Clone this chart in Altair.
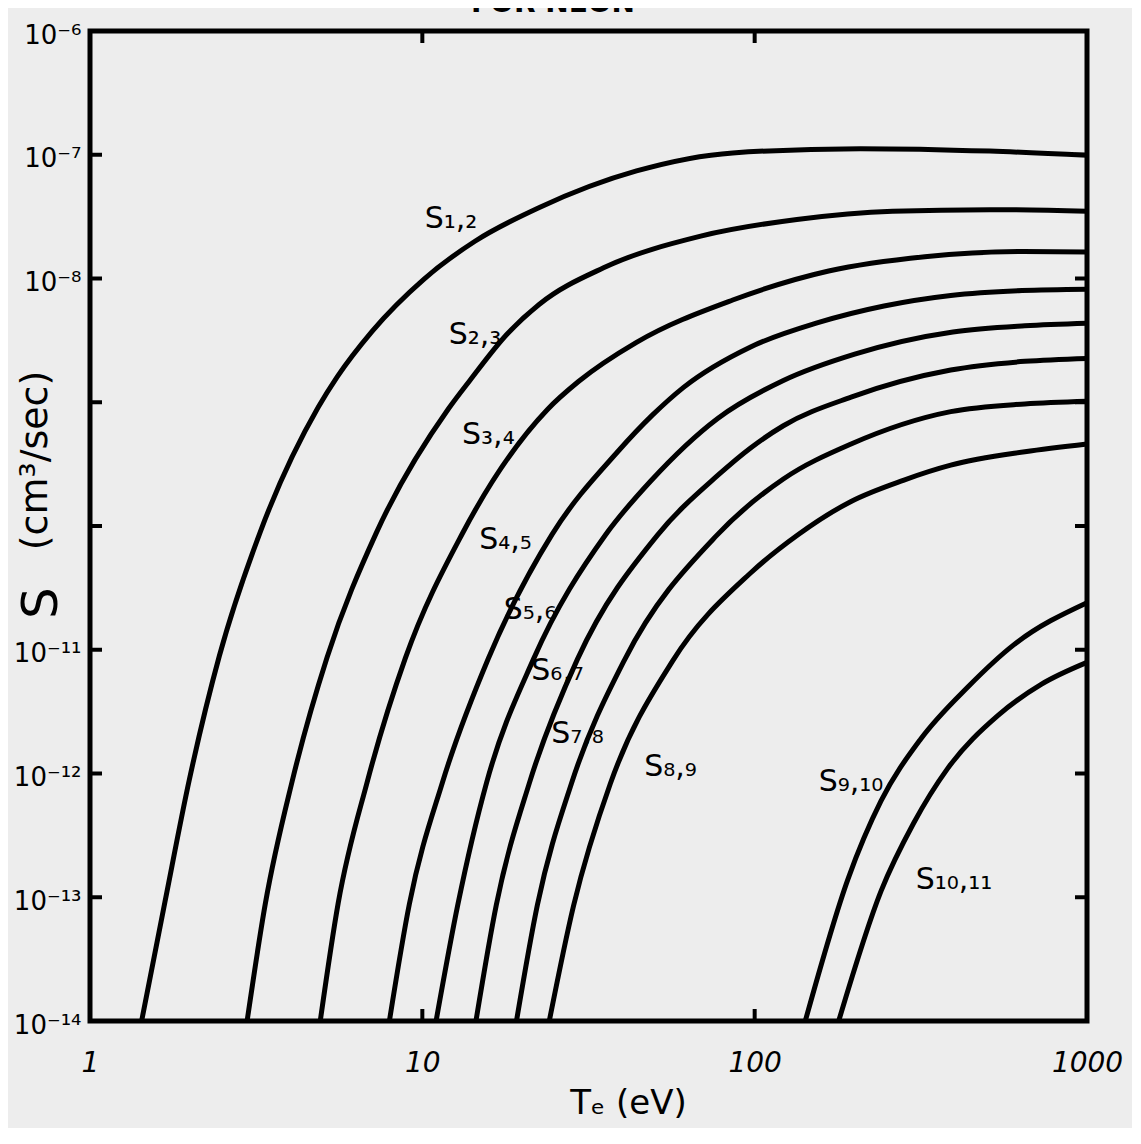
import altair as alt
import pandas as pd

# ---------------- data ----------------
curve_names = ["S1,2", "S2,3", "S3,4", "S4,5", "S5,6", "S6,7", "S7,8", "S8,9", "S9,10", "S10,11"]

t_s12 = [1.43, 1.68, 1.99, 2.45, 3.25, 4.86, 5.55, 7.07, 10.1, 14.4, 22.5, 44.1, 85.9, 208, 510, 1000]
s_s12 = [1e-14, 9.1e-14, 8.9e-13, 8.9e-12, 8.9e-11, 9.1e-10, 1.61e-9, 3.76e-9, 9.86e-9, 2.0e-8, 3.75e-8,
         7.4e-8, 1.035e-7, 1.12e-7, 1.07e-7, 9.9e-8]

t_s23 = [2.97, 3.37, 4.06, 5.17, 7.27, 12.0, 13.9, 18.0, 22.5, 35.1, 68.8, 134, 260, 510, 1000]
s_s23 = [1e-14, 8.9e-14, 8.7e-13, 8.7e-12, 8.8e-11, 8.9e-10, 1.5e-9, 3.56e-9, 6.2e-9, 1.22e-8, 2.2e-8,
         3.0e-8, 3.5e-8, 3.6e-8, 3.5e-8]

t_s34 = [4.93, 5.58, 6.83, 8.89, 13.2, 23.8, 29.5, 44.1, 85.9, 167, 325, 637, 1000]
s_s34 = [1e-14, 8.9e-14, 8.6e-13, 8.55e-12, 8.7e-11, 8.75e-10, 1.47e-9, 3.05e-9, 6.7e-9, 1.15e-8,
         1.5e-8, 1.65e-8, 1.64e-8]

t_s45 = [7.96, 9.14, 11.5, 15.8, 24.6, 38.7, 49.3, 61.1, 97.2, 155, 245, 389, 637, 1000]
s_s45 = [1e-14, 8.8e-14, 8.5e-13, 8.5e-12, 8.6e-11, 3.98e-10, 7.9e-10, 1.32e-9, 2.8e-9, 4.4e-9, 6.0e-9,
         7.3e-9, 8.0e-9, 8.2e-9]

t_s56 = [11.0, 12.8, 15.6, 21.6, 35.6, 48.6, 77.4, 122, 200, 395, 650, 1000]
s_s56 = [1e-14, 8.8e-14, 8.4e-13, 8.4e-12, 8.5e-11, 2.3e-10, 7.4e-10, 1.5e-9, 2.45e-9, 3.7e-9, 4.15e-9,
         4.35e-9]

t_s67 = [14.5, 16.7, 21.0, 29.3, 51.0, 77.4, 97.2, 122, 195, 389, 650, 1000]
s_s67 = [1e-14, 8.7e-14, 8.4e-13, 8.4e-12, 8.45e-11, 2.56e-10, 4.27e-10, 6.46e-10, 1.10e-9, 1.82e-9,
         2.14e-9, 2.26e-9]

t_s78 = [19.2, 22.2, 28.1, 40.6, 76.9, 122, 195, 389, 650, 1000]
s_s78 = [1e-14, 8.7e-14, 8.3e-13, 8.3e-12, 8.4e-11, 2.4e-10, 4.6e-10, 8.4e-10, 9.7e-10, 1.02e-9]

t_s89 = [24.1, 28.5, 36.8, 56.6, 97.2, 135, 195, 280, 389, 650, 1000]
s_s89 = [1e-14, 8.5e-14, 8.3e-13, 8.1e-12, 4.17e-11, 8.5e-11, 1.58e-10, 2.34e-10, 3.1e-10, 3.98e-10,
         4.6e-10]

t_s910 = [142, 191, 240, 316, 438, 603, 1000]
s_s910 = [1e-14, 1.41e-13, 6.0e-13, 1.9e-12, 5.0e-12, 1.10e-11, 2.4e-11]

t_s1011 = [179, 240, 301, 381, 540, 728, 1000]
s_s1011 = [1e-14, 1.12e-13, 3.98e-13, 1.10e-12, 2.95e-12, 5.25e-12, 7.9e-12]

label_texts = ["S₁,₂", "S₂,₃", "S₃,₄", "S₄,₅", "S₅,₆", "S₆,₇", "S₇,₈", "S₈,₉", "S₉,₁₀", "S₁₀,₁₁"]
label_t = [12.2, 14.4, 15.8, 17.8, 21.1, 25.5, 29.3, 55.8, 195, 398]
label_s = [3.0e-8, 3.5e-9, 5.4e-10, 7.7e-11, 2.1e-11, 6.7e-12, 2.07e-12, 1.12e-12, 8.6e-13, 1.38e-13]

x_tick_labels = [1, 10, 100, 1000]
x_inner_ticks = [10, 100]
y_label_exps = [-6, -7, -8, -11, -12, -13, -14]
y_label_texts = ["10⁻⁶", "10⁻⁷", "10⁻⁸", "10⁻¹¹", "10⁻¹²", "10⁻¹³", "10⁻¹⁴"]
y_inner_ticks = [1e-7, 1e-8, 1e-9, 1e-10, 1e-11, 1e-12, 1e-13]

# ---------------- tables ----------------
all_t = [t_s12, t_s23, t_s34, t_s45, t_s56, t_s67, t_s78, t_s89, t_s910, t_s1011]
all_s = [s_s12, s_s23, s_s34, s_s45, s_s56, s_s67, s_s78, s_s89, s_s910, s_s1011]
rows = []
for name, ts, ss in zip(curve_names, all_t, all_s):
    for t, s in zip(ts, ss):
        rows.append({"curve": name, "T": t, "S": s})
curves_df = pd.DataFrame(rows)
labels_df = pd.DataFrame({"label": label_texts, "T": label_t, "S": label_s})

FONT = "DejaVu Sans"
xscale = alt.Scale(type="log", domain=[1, 1000], nice=False)
yscale = alt.Scale(type="log", domain=[1e-14, 1e-6], nice=False)

y_values = [10.0 ** e for e in y_label_exps]
expr = "''"
for e, txt in zip(reversed(y_label_exps), reversed(y_label_texts)):
    expr = f"(round(log(datum.value)/LN10) == {e} ? '{txt}' : {expr})"

x_axis = alt.Axis(values=x_tick_labels, format="d", ticks=False, domain=False, grid=False,
                  labelFont=FONT, labelFontStyle="italic", labelFontSize=28, labelColor="black",
                  labelPadding=28, labelFlush=False, labelOverlap=False,
                  title="Tₑ (eV)", titleFont=FONT, titleFontSize=34, titleFontWeight="normal",
                  titleColor="black", titleX=538, titleY=82, titleAlign="center",
                  titleBaseline="middle")
y_axis = alt.Axis(values=y_values, labelExpr=expr, ticks=False, domain=False, grid=False,
                  labelFont=FONT, labelFontSize=26, labelColor="black", labelPadding=9,
                  labelOffset=4, labelFlush=False, labelOverlap=False,
                  title="(cm³/sec)", titleFont=FONT, titleFontSize=38, titleFontWeight="normal",
                  titleColor="black", titleAngle=270, titleX=-55, titleY=429,
                  titleAlign="center", titleBaseline="middle")

lines = alt.Chart(curves_df).mark_line(
    color="black", strokeWidth=5, interpolate="monotone"
).encode(
    x=alt.X("T:Q", scale=xscale, axis=x_axis),
    y=alt.Y("S:Q", scale=yscale, axis=y_axis),
    detail="curve:N",
)

curve_labels = alt.Chart(labels_df).mark_text(
    font=FONT, fontSize=30, color="black", align="center", baseline="middle"
).encode(
    x=alt.X("T:Q", scale=xscale),
    y=alt.Y("S:Q", scale=yscale),
    text="label:N",
)

left_ticks = alt.Chart(pd.DataFrame({"S": y_inner_ticks, "T": [1] * len(y_inner_ticks)})).mark_tick(
    orient="horizontal", size=12, thickness=4, color="black", xOffset=6, opacity=1
).encode(x=alt.X("T:Q", scale=xscale), y=alt.Y("S:Q", scale=yscale))

right_ticks = alt.Chart(pd.DataFrame({"S": y_inner_ticks, "T": [1000] * len(y_inner_ticks)})).mark_tick(
    orient="horizontal", size=12, thickness=4, color="black", xOffset=-6, opacity=1
).encode(x=alt.X("T:Q", scale=xscale), y=alt.Y("S:Q", scale=yscale))

top_ticks = alt.Chart(pd.DataFrame({"T": x_inner_ticks, "S": [1e-6] * len(x_inner_ticks)})).mark_tick(
    orient="vertical", size=12, thickness=4, color="black", yOffset=6, opacity=1
).encode(x=alt.X("T:Q", scale=xscale), y=alt.Y("S:Q", scale=yscale))

bottom_ticks = alt.Chart(pd.DataFrame({"T": x_inner_ticks, "S": [1e-14] * len(x_inner_ticks)})).mark_tick(
    orient="vertical", size=12, thickness=4, color="black", yOffset=-6, opacity=1
).encode(x=alt.X("T:Q", scale=xscale), y=alt.Y("S:Q", scale=yscale))

big_s = alt.Chart(pd.DataFrame({"t": ["S"]})).mark_text(
    font=FONT, fontSize=50, color="black", angle=270, align="center", baseline="middle"
).encode(x=alt.value(-48), y=alt.value(572), text="t:N")

top_title = alt.Chart(pd.DataFrame({"t": ["FOR NEON"]})).mark_text(
    font=FONT, fontSize=28, fontWeight="bold", color="black", align="center", baseline="alphabetic"
).encode(x=alt.value(463), y=alt.value(-19), text="t:N")

chart = alt.layer(
    lines, curve_labels, left_ticks, right_ticks, top_ticks, bottom_ticks, big_s, top_title
).properties(
    width=997, height=990,
    autosize=alt.AutoSizeParams(type="none"),
    padding={"left": 82, "top": 23, "right": 45, "bottom": 107},
    background="#ededed",
).configure_view(stroke="black", strokeWidth=5)

chart.save("out.html", embed_options={"renderer": "svg", "actions": False})
